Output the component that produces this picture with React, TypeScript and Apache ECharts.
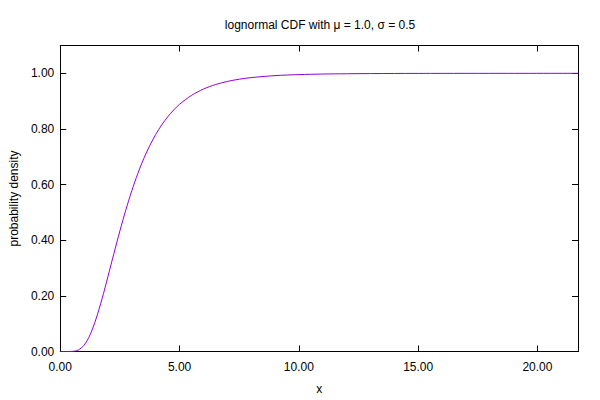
import React, { useEffect, useRef } from "react";
import * as echarts from "echarts";

const xValues = [
  0, 0.25, 0.4, 0.5, 0.6, 0.75, 1.0, 1.25, 1.5, 1.75, 2.0, 2.25, 2.5, 2.75, 3.0, 3.25, 3.5, 3.75, 4.0, 4.25,
  4.5, 4.75, 5.0, 5.5, 6.0, 6.5, 7.0, 7.5, 8.0, 9.0, 10.0, 11.0, 12.0, 14.0, 16.0, 18.0, 21.7,
];
const cdfValues = [
  0, 0, 0.00006, 0.00035, 0.00126, 0.005, 0.0228, 0.0601, 0.1172, 0.1892, 0.2697, 0.3527, 0.4335, 0.5093,
  0.5782, 0.6396, 0.6934, 0.7401, 0.7801, 0.8143, 0.8433, 0.8679, 0.8886, 0.9207, 0.9434, 0.9594, 0.9707,
  0.9788, 0.9846, 0.9917, 0.9954, 0.9974, 0.9985, 0.9995, 0.9998, 0.9999, 1.0,
];
const xTicks = [0, 5, 10, 15, 20];
const yTicks = [0, 0.2, 0.4, 0.6, 0.8, 1.0];

const titleText = "lognormal CDF with μ = 1.0, σ = 0.5";
const FONT = "Liberation Sans, Arial, sans-serif";

export default function App() {
  const ref = useRef<HTMLDivElement>(null);
  useEffect(() => {
    document.body.style.margin = "0";
    if (!ref.current) return;
    const chart = echarts.init(ref.current, null, { renderer: "svg" });
    const isTick = (arr: number[], v: number) => arr.some((t) => Math.abs(t - v) < 1e-6);
    const tickStyle = () => ({ inside: true, length: 6, lineStyle: { color: "#000", width: 1 } });
    const axisLine = () => ({ show: true, onZero: false, lineStyle: { color: "#000", width: 1 } });
    const data = xValues.map((x, i) => [x, cdfValues[i]]);
    chart.setOption({
      animation: false,
      backgroundColor: "#fff",
      textStyle: { fontFamily: FONT },
      grid: { left: 60, right: 22, top: 45.5, bottom: 48.5, show: false },
      graphic: [
        {
          type: "text",
          x: 320,
          y: 25,
          style: {
            text: titleText,
            fill: "#000",
            font: `12px ${FONT}`,
            textAlign: "center",
            textVerticalAlign: "middle",
          },
        },
      ],
      xAxis: [
        {
          type: "value",
          min: 0,
          max: 21.7,
          interval: 5,
          position: "bottom",
          name: "x",
          nameLocation: "middle",
          nameGap: 31,
          nameTextStyle: { color: "#000", fontSize: 12, fontFamily: FONT },
          axisLine: axisLine(),
          axisTick: tickStyle(),
          splitLine: { show: false },
          axisLabel: {
            color: "#000",
            fontSize: 12,
            fontFamily: FONT,
            margin: 9,
            formatter: (v: number) => (isTick(xTicks, v) ? v.toFixed(2) : ""),
          },
        },
        {
          type: "value",
          min: 0,
          max: 21.7,
          interval: 5,
          position: "top",
          axisLine: axisLine(),
          axisTick: tickStyle(),
          splitLine: { show: false },
          axisLabel: { show: false },
        },
      ],
      yAxis: [
        {
          type: "value",
          min: 0,
          max: 1.1,
          interval: 0.2,
          position: "left",
          name: "probability density",
          nameLocation: "middle",
          nameRotate: 90,
          nameGap: 40,
          nameTextStyle: { color: "#000", fontSize: 12, fontFamily: FONT },
          axisLine: axisLine(),
          axisTick: tickStyle(),
          splitLine: { show: false },
          axisLabel: {
            color: "#000",
            fontSize: 12,
            fontFamily: FONT,
            margin: 6,
            formatter: (v: number) => (isTick(yTicks, v) ? v.toFixed(2) : ""),
          },
        },
        {
          type: "value",
          min: 0,
          max: 1.1,
          interval: 0.2,
          position: "right",
          axisLine: axisLine(),
          axisTick: tickStyle(),
          splitLine: { show: false },
          axisLabel: { show: false },
        },
      ],
      series: [
        {
          type: "line",
          xAxisIndex: 0,
          yAxisIndex: 0,
          data,
          showSymbol: false,
          smooth: 0.3,
          lineStyle: { color: "#9400d3", width: 1 },
          clip: true,
        },
      ],
    });
    return () => chart.dispose();
  }, []);
  return <div ref={ref} style={{ width: 600, height: 400 }} />;
}
